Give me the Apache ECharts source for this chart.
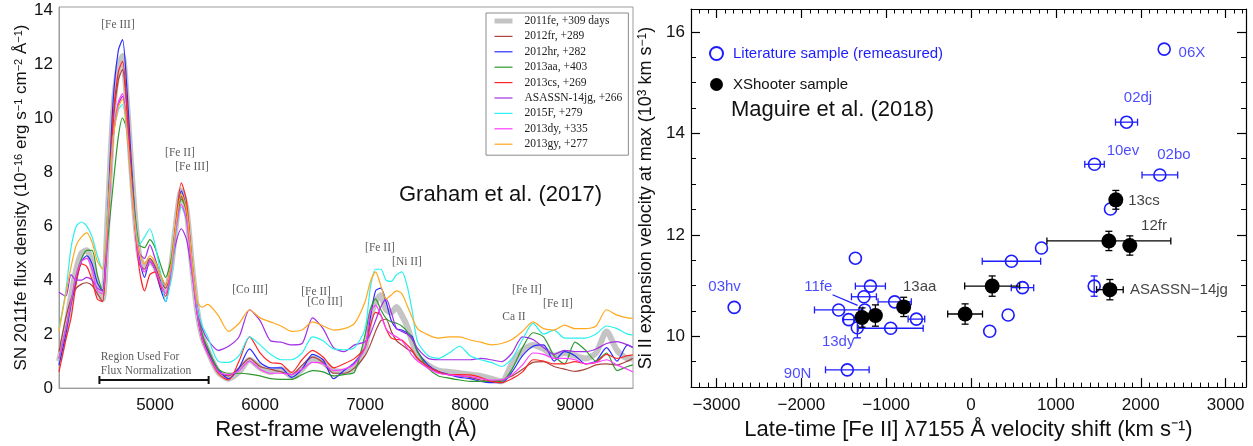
<!DOCTYPE html>
<html>
<head>
<meta charset="utf-8">
<script src="https://cdn.jsdelivr.net/npm/echarts@6/dist/echarts.min.js"></script>
<style>
  html, body { margin: 0; padding: 0; background: #fff; }
  #chart { width: 1253px; height: 446px; }
</style>
</head>
<body>
<div id="chart"></div>
<script>
// ---- left panel: late-time nebular spectra (Graham et al. 2017) ----
// rest-frame wavelength grid (Å)
const wave = [4085, 4150, 4200, 4250, 4300, 4350, 4400, 4450, 4500, 4550,
  4600, 4650, 4690, 4730, 4770, 4810, 4850, 4900, 4950, 5000,
  5050, 5100, 5150, 5200, 5250, 5300, 5350, 5400, 5450, 5500,
  5600, 5700, 5800, 5900, 6000, 6100, 6200, 6300, 6400, 6500,
  6600, 6700, 6800, 6900, 7000, 7050, 7100, 7150, 7200, 7250,
  7300, 7350, 7400, 7450, 7500, 7600, 7700, 7800, 7900, 8000,
  8100, 8200, 8300, 8400, 8500, 8600, 8700, 8800, 8900, 9000,
  9100, 9200, 9300, 9400, 9500, 9550];

// flux density, 1e-16 erg/s/cm2/Å
const sn2011fe = [1.0, 2.2, 3.4, 4.4, 5.0, 5.1, 4.6, 3.7, 3.3, 6.5,
  10.2, 11.9, 12.3, 10.7, 8.4, 6.3, 4.9, 4.5, 4.7, 4.5,
  4.0, 3.6, 4.4, 6.1, 7.3, 6.6, 4.6, 2.9, 1.9, 1.4,
  0.6, 0.35, 0.6, 1.05, 0.75, 0.6, 0.7, 0.45, 0.7, 1.1,
  0.95, 0.65, 0.6, 0.8, 1.5, 2.6, 3.2, 3.44, 2.9, 2.8,
  3.0, 2.7, 2.3, 1.7, 1.2, 0.85, 0.65, 0.6, 0.55, 0.5,
  0.45, 0.35, 0.25, 0.9, 1.4, 1.6, 1.45, 1.2, 1.3, 1.2,
  1.1, 1.3, 2.1, 1.4, 1.1, 1.1];
const sn2012fr = [1.35, 2.6, 3.3, 3.7, 3.85, 3.9, 3.8, 3.5, 3.2, 6.2,
  9.8, 11.4, 11.8, 10.4, 8.1, 6.0, 4.6, 4.4, 4.8, 4.5,
  4.0, 3.7, 4.4, 6.0, 7.1, 6.5, 4.6, 2.9, 1.9, 1.4,
  0.6, 0.45, 0.75, 1.1, 0.8, 0.7, 0.6, 0.5, 0.85, 1.15,
  0.95, 0.55, 0.55, 0.75, 1.2, 1.6, 2.1, 2.5, 2.55, 2.1,
  1.75, 1.6, 1.45, 1.35, 1.1, 0.8, 0.6, 0.49, 0.45, 0.4,
  0.3, 0.25, 0.3, 0.45, 0.7, 0.95, 0.98, 0.8, 0.7, 0.62,
  0.7, 0.86, 0.9, 0.86, 1.0, 1.1];
const sn2012hr = [0.85, 2.0, 3.1, 4.0, 4.7, 4.9, 4.6, 3.9, 3.6, 6.6,
  10.6, 12.5, 12.9, 11.2, 8.6, 6.3, 4.8, 4.1, 4.7, 4.4,
  3.7, 3.2, 4.2, 6.1, 7.3, 6.6, 4.5, 2.8, 1.8, 1.4,
  0.7, 0.35, 0.75, 1.45, 0.95, 0.75, 0.75, 0.4, 0.7, 1.25,
  1.05, 0.35, 0.65, 0.95, 1.5, 2.6, 3.6, 3.7, 3.2, 2.5,
  2.2, 2.15, 2.05, 1.9, 1.35, 0.86, 0.61, 0.5, 0.4, 0.35,
  0.25, 0.2, 0.2, 0.6, 1.2, 1.55, 1.6, 1.0, 1.35, 1.2,
  0.9, 1.0, 1.5, 1.0, 1.6, 1.5];
const sn2013aa = [1.1, 2.2, 3.2, 4.2, 4.8, 5.1, 5.1, 4.2, 3.6, 5.5,
  7.5, 9.3, 10.0, 9.6, 8.2, 6.4, 5.3, 5.2, 5.5, 5.2,
  4.6, 4.1, 4.7, 6.1, 7.0, 6.6, 4.8, 3.0, 2.0, 1.5,
  0.7, 0.55, 0.55, 0.52, 0.45, 0.35, 0.32, 0.32, 0.5, 0.65,
  0.6, 0.45, 0.5, 0.6, 1.97, 2.9, 3.3, 2.9, 2.58, 2.45,
  2.4, 2.3, 2.1, 1.8, 1.35, 0.74, 0.45, 0.37, 0.3, 0.25,
  0.25, 0.25, 0.25, 0.7, 1.5, 2.05, 1.9, 1.2, 0.9, 1.7,
  1.4, 1.0, 1.3, 0.65, 0.8, 0.86];
const sn2013cs = [0.6, 1.8, 2.6, 3.9, 4.6, 4.5, 4.0, 3.3, 3.2, 6.4,
  10.0, 11.7, 12.1, 10.6, 8.2, 6.0, 4.4, 3.6, 4.2, 4.3,
  3.8, 3.4, 4.2, 6.2, 7.6, 6.9, 4.7, 2.8, 1.8, 1.3,
  0.55, 0.3, 1.0, 1.9, 1.3, 0.95, 0.9, 0.58, 1.05, 1.4,
  1.15, 0.75, 0.9, 1.1, 1.5, 2.3, 2.8, 2.7, 2.2, 1.85,
  1.8, 1.78, 1.6, 1.4, 1.1, 0.8, 0.6, 0.5, 0.5, 0.49,
  0.4, 0.25, 0.2, 0.35, 0.6, 1.05, 1.0, 0.9, 0.9, 0.98,
  0.9, 0.95, 1.25, 1.1, 1.2, 1.23];
const asassn14jg = [3.55, 3.4, 4.2, 4.0, 4.0, 4.1, 4.0, 3.7, 3.6, 6.3,
  9.3, 10.5, 10.8, 9.8, 7.9, 6.1, 5.0, 4.8, 5.3, 4.8,
  4.2, 3.8, 4.4, 5.4, 5.9, 5.5, 4.3, 3.0, 2.2, 1.8,
  1.4, 1.55, 1.9, 2.9, 2.5, 1.75, 1.7, 1.6, 1.65, 2.6,
  2.2, 1.5, 1.35, 1.6, 1.72, 2.0, 2.5, 3.0, 3.3, 2.8,
  2.2, 2.1, 2.0, 1.8, 1.47, 1.1, 1.05, 1.05, 1.05, 1.05,
  1.1, 1.05, 0.98, 1.3, 1.9, 1.8, 1.5, 1.25, 1.4, 1.35,
  1.35, 1.45, 1.65, 1.72, 1.6, 1.5];
const sn2015F = [2.2, 3.6, 5.2, 6.0, 6.15, 6.0, 5.6, 4.9, 4.4, 6.6,
  9.3, 10.3, 10.5, 9.5, 7.6, 6.1, 5.3, 5.6, 5.9, 5.3,
  4.3, 3.2, 4.0, 5.8, 6.7, 6.2, 4.5, 3.0, 2.3, 1.9,
  1.0, 0.95, 1.2, 1.9, 1.6, 1.25, 1.05, 1.05, 1.3, 1.9,
  1.75, 1.45, 1.42, 1.5, 2.2, 3.7, 4.4, 4.4, 4.0, 3.95,
  4.2, 4.3, 3.8, 2.83, 1.72, 1.2, 1.1, 1.3, 1.55, 1.2,
  1.05, 0.95, 0.8, 1.1, 1.8, 2.4, 2.0, 2.15, 1.85, 1.85,
  1.85, 2.0, 2.3, 2.2, 2.0, 1.97];
const sn2013dy = [1.1, 2.2, 3.2, 4.2, 4.7, 4.8, 4.4, 3.6, 3.5, 6.0,
  9.2, 10.6, 10.9, 9.7, 7.7, 5.9, 4.7, 4.3, 4.7, 4.4,
  3.9, 3.5, 4.3, 5.9, 6.8, 6.2, 4.4, 2.8, 1.8, 1.3,
  0.6, 0.5, 0.65, 1.0, 0.7, 0.55, 0.55, 0.5, 0.7, 0.95,
  0.9, 0.65, 0.7, 0.9, 1.5, 2.8, 3.07, 2.7, 2.2, 2.0,
  1.9, 1.75, 1.5, 1.2, 1.0, 0.74, 0.55, 0.49, 0.45, 0.43,
  0.35, 0.3, 0.3, 0.5, 0.86, 1.3, 1.25, 1.1, 1.1, 1.05,
  0.9, 0.95, 1.05, 0.85, 0.7, 0.6];
const sn2013gy = [2.1, 3.5, 4.5, 5.3, 5.6, 5.75, 5.4, 4.7, 4.4, 6.4,
  9.2, 10.4, 10.7, 9.6, 7.7, 6.0, 5.0, 4.6, 4.9, 4.7,
  4.2, 3.8, 4.5, 6.1, 7.2, 6.6, 4.8, 3.2, 3.0, 3.1,
  2.7, 2.1, 2.4, 2.9, 2.6, 2.45, 2.3, 2.1, 2.15, 2.45,
  2.3, 2.15, 2.2, 2.4, 3.2, 3.93, 4.3, 3.8, 3.3, 3.45,
  3.6, 3.5, 3.07, 2.6, 2.2, 1.97, 1.85, 1.9, 1.9, 1.78,
  1.7, 1.6, 1.65, 1.8, 2.1, 2.45, 2.2, 2.15, 2.33, 2.2,
  2.2, 2.3, 2.9, 2.7, 2.6, 2.58];

const waveTicks = [5000, 6000, 7000, 8000, 9000];
const fluxTicks = [0, 2, 4, 6, 8, 10, 12, 14];

// line identifications
const lineIds = ['[Fe III]', '[Fe II]', '[Fe III]', '[Co III]', '[Fe II]', '[Co III]',
  '[Fe II]', '[Ni II]', '[Fe II]', '[Fe II]', 'Ca II', 'Region Used For', 'Flux Normalization'];
const lineIdWave = [4647, 5237, 5352, 5904, 6533, 6618, 7142, 7399, 8542, 8837, 8418, 4856, 4914];
const lineIdFlux = [13.45, 8.7, 8.2, 3.65, 3.57, 3.17, 5.2, 4.68, 3.65, 3.13, 2.65, 1.14, 0.63];
const normRange = [4470, 5510];

// ---- right panel: Maguire et al. (2018) ----
// literature sample (remeasured): [Fe II] 7155 shift (km/s), Si II velocity (1e3 km/s)
const litVel = [2276, 1832, 1455, 2225, 1643, 830, 476, 606, 1451, 437, 220,
  -1363, -1186, -1262, -900, -1560, -1253, -1442, -644, -1340, -947, -1458, -2791];
const litSi = [15.66, 14.22, 13.39, 13.18, 12.51, 11.74, 11.48, 10.96, 10.99, 10.42, 10.10,
  11.54, 10.99, 10.78, 10.68, 10.52, 10.52, 10.33, 10.34, 10.17, 10.16, 9.34, 10.57];
const litVelErr = [0, 130, 115, 210, 0, 0, 344, 132, 0, 0, 0,
  0, 177, 147, 196, 285, 0, 60, 98, 0, 383, 257, 0];
const litSiErr = [0, 0, 0, 0, 0, 0, 0, 0, 0.2, 0, 0,
  0, 0, 0, 0, 0, 0, 0, 0, 0.2, 0, 0, 0];
// XShooter sample
const xsVel = [1706, 1624, 1871, 249, 1636, -70, -794, -1127, -1285];
const xsSi = [12.69, 11.88, 11.79, 10.99, 10.92, 10.44, 10.58, 10.41, 10.37];
const xsVelErr = [0, 730, 0, 324, 157, 205, 0, 0, 50];
const xsSiErr = [0.185, 0.19, 0.19, 0.2, 0.2, 0.2, 0.19, 0.21, 0.19];

const snNames = ['06X', '02dj', '10ev', '02bo', '13cs', '12fr', 'ASASSN\u221214jg', '13aa', '03hv', '11fe', '13dy', '90N'];
const snNameVel = [2603, 1967, 1790, 2391, 2038, 2156, 2450, -605, -2904, -1800, -1566, -2044];
const snNameSi = [15.59, 14.69, 13.65, 13.57, 12.67, 12.18, 10.92, 10.98, 10.98, 10.98, 9.90, 9.27];
const snNameXs = [false, false, false, false, true, true, true, true, false, false, false, false];
const pointer11fe = [[-1632, 10.82], [-1337, 10.61]];

const velTicks = [-3000, -2000, -1000, 0, 1000, 2000, 3000];
const siTicks = [10, 12, 14, 16];

const minorVel = [];
for (let v = -3300; v <= 3200; v += 100) if (v % 1000 !== 0) minorVel.push(v);
const minorSi = [];
for (let v = 9; v <= 16.4; v += 0.5) if (v % 2 !== 0) minorSi.push(v);

const BLUE = '#1c1cff';
const SANS = '"Liberation Sans", Arial, sans-serif';
const SERIF = '"Liberation Serif", "DejaVu Serif", serif';

const spectra = [
  ['2011fe, +309 days', sn2011fe, '#c4c4c4', 6],
  ['2012fr, +289', sn2012fr, '#a8443c', 1.2],
  ['2012hr, +282', sn2012hr, '#2a2aff', 1.2],
  ['2013aa, +403', sn2013aa, '#2e9a2e', 1.2],
  ['2013cs, +269', sn2013cs, '#ff2424', 1.2],
  ['ASASSN-14jg, +266', asassn14jg, '#a32fe6', 1.2],
  ['2015F, +279', sn2015F, '#2af0f0', 1.2],
  ['2013dy, +335', sn2013dy, '#ff3cff', 1.2],
  ['2013gy, +277', sn2013gy, '#ffa81e', 1.2]
];

function minusSign(v) {
  return v < 0 ? '\u2212' + Math.abs(v) : String(v);
}

function errorSeries(xs, ys, errs, horizontal, color, z) {
  const data = [];
  xs.forEach((x, i) => {
    if (errs[i] > 0) data.push([x, ys[i], errs[i]]);
  });
  return {
    type: 'custom',
    xAxisIndex: 1,
    yAxisIndex: 1,
    silent: true,
    z: z,
    encode: { x: 0, y: 1 },
    data: data,
    renderItem(params, api) {
      const x = api.value(0), y = api.value(1), e = api.value(2);
      const a = horizontal ? api.coord([x - e, y]) : api.coord([x, y - e]);
      const b = horizontal ? api.coord([x + e, y]) : api.coord([x, y + e]);
      const c = 3.5;
      const cap = (p) => horizontal
        ? { x1: p[0], y1: p[1] - c, x2: p[0], y2: p[1] + c }
        : { x1: p[0] - c, y1: p[1], x2: p[0] + c, y2: p[1] };
      const st = () => ({ stroke: color, lineWidth: 1.3 });
      return {
        type: 'group',
        children: [
          { type: 'line', shape: { x1: a[0], y1: a[1], x2: b[0], y2: b[1] }, style: st() },
          { type: 'line', shape: cap(a), style: st() },
          { type: 'line', shape: cap(b), style: st() }
        ]
      };
    }
  };
}

const chart = echarts.init(document.getElementById('chart'));

const series = [];
spectra.forEach(([name, flux, color, width], k) => {
  series.push({
    name: name,
    type: 'line',
    xAxisIndex: 0,
    yAxisIndex: 0,
    data: wave.map((w, i) => [w, flux[i]]),
    symbol: 'none',
    smooth: 0.25,
    lineStyle: { color: color, width: width },
    itemStyle: { color: color },
    z: 2 + k,
    silent: true
  });
});

// flux normalisation bracket
series.push({
  name: 'norm',
  type: 'line',
  xAxisIndex: 0,
  yAxisIndex: 0,
  data: normRange.map((w) => [w, 0.3]),
  symbol: 'rect',
  symbolSize: [2, 8],
  lineStyle: { color: '#111', width: 2 },
  itemStyle: { color: '#111' },
  z: 20,
  silent: true
});

// line identifications
series.push({
  name: 'lineIds',
  type: 'scatter',
  xAxisIndex: 0,
  yAxisIndex: 0,
  symbolSize: 1,
  itemStyle: { color: 'rgba(0,0,0,0)' },
  data: lineIds.map((t, i) => [lineIdWave[i], lineIdFlux[i], t]),
  label: {
    show: true,
    position: 'inside',
    formatter: (p) => p.value[2],
    fontFamily: SERIF,
    fontSize: 11.5,
    color: '#333'
  },
  z: 21,
  silent: true
});

// right panel
series.push(errorSeries(litVel, litSi, litVelErr, true, BLUE, 3));
series.push(errorSeries(litVel, litSi, litSiErr, false, BLUE, 3));
series.push({
  name: 'Literature sample (remeasured)',
  type: 'scatter',
  xAxisIndex: 1,
  yAxisIndex: 1,
  data: litVel.map((v, i) => [v, litSi[i]]),
  symbol: 'circle',
  symbolSize: 12,
  itemStyle: { color: 'rgba(255,255,255,0)', borderColor: BLUE, borderWidth: 1.6, opacity: 1 },
  z: 4,
  silent: true
});
series.push(errorSeries(xsVel, xsSi, xsVelErr, true, '#000', 5));
series.push(errorSeries(xsVel, xsSi, xsSiErr, false, '#000', 5));
series.push({
  name: 'XShooter sample',
  type: 'scatter',
  xAxisIndex: 1,
  yAxisIndex: 1,
  data: xsVel.map((v, i) => [v, xsSi[i]]),
  symbol: 'circle',
  symbolSize: 15,
  itemStyle: { color: '#000', opacity: 1 },
  z: 6,
  silent: true
});
series.push({
  name: 'pointer',
  type: 'line',
  xAxisIndex: 1,
  yAxisIndex: 1,
  data: pointer11fe,
  symbol: 'none',
  lineStyle: { color: BLUE, width: 1.2 },
  z: 6,
  silent: true
});
series.push({
  name: 'snNames',
  type: 'scatter',
  xAxisIndex: 1,
  yAxisIndex: 1,
  symbolSize: 1,
  itemStyle: { color: 'rgba(0,0,0,0)' },
  data: snNames.map((t, i) => ({
    value: [snNameVel[i], snNameSi[i]],
    label: { color: snNameXs[i] ? '#111' : BLUE, formatter: t }
  })),
  label: {
    show: true,
    position: 'inside',
    fontFamily: SANS,
    fontSize: 15
  },
  z: 7,
  silent: true
});

const axisFont = { fontFamily: SANS, fontSize: 17, color: '#111' };
const titleFont = { fontFamily: SANS, fontSize: 22, color: '#111' };
const blackLine = { show: true, onZero: false, lineStyle: { color: '#000', width: 1.2 } };
const noLine = { show: false, onZero: false };

chart.setOption({
  animation: false,
  backgroundColor: '#fff',
  grid: [
    { left: 59, top: 7, width: 574, height: 383, show: true, borderColor: '#9c9c9c', borderWidth: 1 },
    { left: 691, top: 9, width: 555, height: 380 }
  ],
  legend: [
    {
      data: spectra.map((s, k) => (k === 0
        ? { name: s[0], lineStyle: { width: 5 } }
        : { name: s[0], lineStyle: { width: 1.2 } })),
      left: 486,
      top: 13,
      orient: 'vertical',
      itemWidth: 18,
      itemHeight: 14,
      itemGap: 3.4,
      padding: [2, 6, 5, 6],
      borderColor: '#8c8c8c',
      borderWidth: 1,
      selectedMode: false,
      itemStyle: { opacity: 0 },
      textStyle: { fontFamily: SERIF, fontSize: 11.5, color: '#222', padding: [0, 0, 0, 7] }
    },
    {
      data: [
        { name: 'Literature sample (remeasured)', textStyle: { color: BLUE } },
        { name: 'XShooter sample', textStyle: { color: '#111' } }
      ],
      left: 709,
      top: 46,
      orient: 'vertical',
      itemWidth: 13,
      itemHeight: 13,
      itemGap: 16,
      padding: 0,
      selectedMode: false,
      textStyle: { fontFamily: SANS, fontSize: 15, padding: [0, 0, 0, 5] }
    }
  ],
  xAxis: [
    {
      gridIndex: 0, type: 'value', min: 4085, max: 9552,
      axisLine: { show: true, onZero: false, lineStyle: { color: '#9c9c9c' } },
      axisTick: { show: false },
      splitLine: { show: false },
      axisLabel: Object.assign({ customValues: waveTicks, margin: 9, formatter: (v) => String(v) }, axisFont),
      name: 'Rest-frame wavelength (\u00c5)',
      nameLocation: 'middle',
      nameGap: 29,
      nameTextStyle: titleFont
    },
    {
      gridIndex: 1, type: 'value', min: -3300, max: 3240, position: 'bottom',
      axisLine: blackLine,
      axisTick: { show: true, inside: true, length: 9, customValues: velTicks, lineStyle: { color: '#000', width: 1.2 } },
      splitLine: { show: false },
      axisLabel: Object.assign({ customValues: velTicks, margin: 10, formatter: minusSign }, axisFont),
      name: 'Late-time [Fe II] \u03bb7155 \u00c5 velocity shift (km s\u207b\u00b9)',
      nameLocation: 'middle',
      nameGap: 30,
      nameTextStyle: titleFont
    },
    {
      gridIndex: 1, type: 'value', min: -3300, max: 3240, position: 'bottom',
      axisLine: noLine,
      axisTick: { show: true, inside: true, length: 4.5, customValues: minorVel, lineStyle: { color: '#000' } },
      axisLabel: { show: false },
      splitLine: { show: false }
    },
    {
      gridIndex: 1, type: 'value', min: -3300, max: 3240, position: 'top',
      axisLine: blackLine,
      axisTick: { show: true, inside: true, length: 9, customValues: velTicks, lineStyle: { color: '#000', width: 1.2 } },
      axisLabel: { show: false },
      splitLine: { show: false }
    },
    {
      gridIndex: 1, type: 'value', min: -3300, max: 3240, position: 'top',
      axisLine: noLine,
      axisTick: { show: true, inside: true, length: 4.5, customValues: minorVel, lineStyle: { color: '#000' } },
      axisLabel: { show: false },
      splitLine: { show: false }
    }
  ],
  yAxis: [
    {
      gridIndex: 0, type: 'value', min: 0, max: 14.11,
      axisLine: { show: true, onZero: false, lineStyle: { color: '#9c9c9c' } },
      axisTick: { show: false },
      splitLine: { show: false },
      axisLabel: Object.assign({ customValues: fluxTicks, margin: 6 }, axisFont),
      name: 'SN 2011fe flux density (10{s|\u221216} erg s{s|\u22121} cm{s|\u22122} \u00c5{s|\u22121})',
      nameLocation: 'middle',
      nameGap: 29,
      nameTextStyle: {
        fontFamily: SANS, fontSize: 17, color: '#111',
        rich: { s: { fontFamily: SANS, fontSize: 11, verticalAlign: 'top', color: '#111' } }
      }
    },
    {
      gridIndex: 1, type: 'value', min: 9, max: 16.45, position: 'left',
      axisLine: blackLine,
      axisTick: { show: true, inside: true, length: 9, customValues: siTicks, lineStyle: { color: '#000', width: 1.2 } },
      splitLine: { show: false },
      axisLabel: Object.assign({ customValues: siTicks, margin: 6 }, axisFont),
      name: 'Si II expansion velocity at max (10{s|3} km s{s|\u22121})',
      nameLocation: 'middle',
      nameGap: 36,
      nameTextStyle: {
        fontFamily: SANS, fontSize: 18, color: '#111',
        rich: { s: { fontFamily: SANS, fontSize: 12, verticalAlign: 'top', color: '#111' } }
      }
    },
    {
      gridIndex: 1, type: 'value', min: 9, max: 16.45, position: 'left',
      axisLine: noLine,
      axisTick: { show: true, inside: true, length: 5, customValues: minorSi, lineStyle: { color: '#000' } },
      axisLabel: { show: false },
      splitLine: { show: false }
    },
    {
      gridIndex: 1, type: 'value', min: 9, max: 16.45, position: 'right',
      axisLine: blackLine,
      axisTick: { show: true, inside: true, length: 9, customValues: siTicks, lineStyle: { color: '#000', width: 1.2 } },
      axisLabel: { show: false },
      splitLine: { show: false }
    },
    {
      gridIndex: 1, type: 'value', min: 9, max: 16.45, position: 'right',
      axisLine: noLine,
      axisTick: { show: true, inside: true, length: 5, customValues: minorSi, lineStyle: { color: '#000' } },
      axisLabel: { show: false },
      splitLine: { show: false }
    }
  ],
  graphic: [
    {
      type: 'text', x: 399, y: 195, silent: true,
      style: { text: 'Graham et al. (2017)', font: '22px ' + SANS, fill: '#111', verticalAlign: 'middle' }
    },
    {
      type: 'text', x: 731, y: 110, silent: true,
      style: { text: 'Maguire et al. (2018)', font: '22px ' + SANS, fill: '#111', verticalAlign: 'middle' }
    }
  ],
  series: series
});
</script>
</body>
</html>
